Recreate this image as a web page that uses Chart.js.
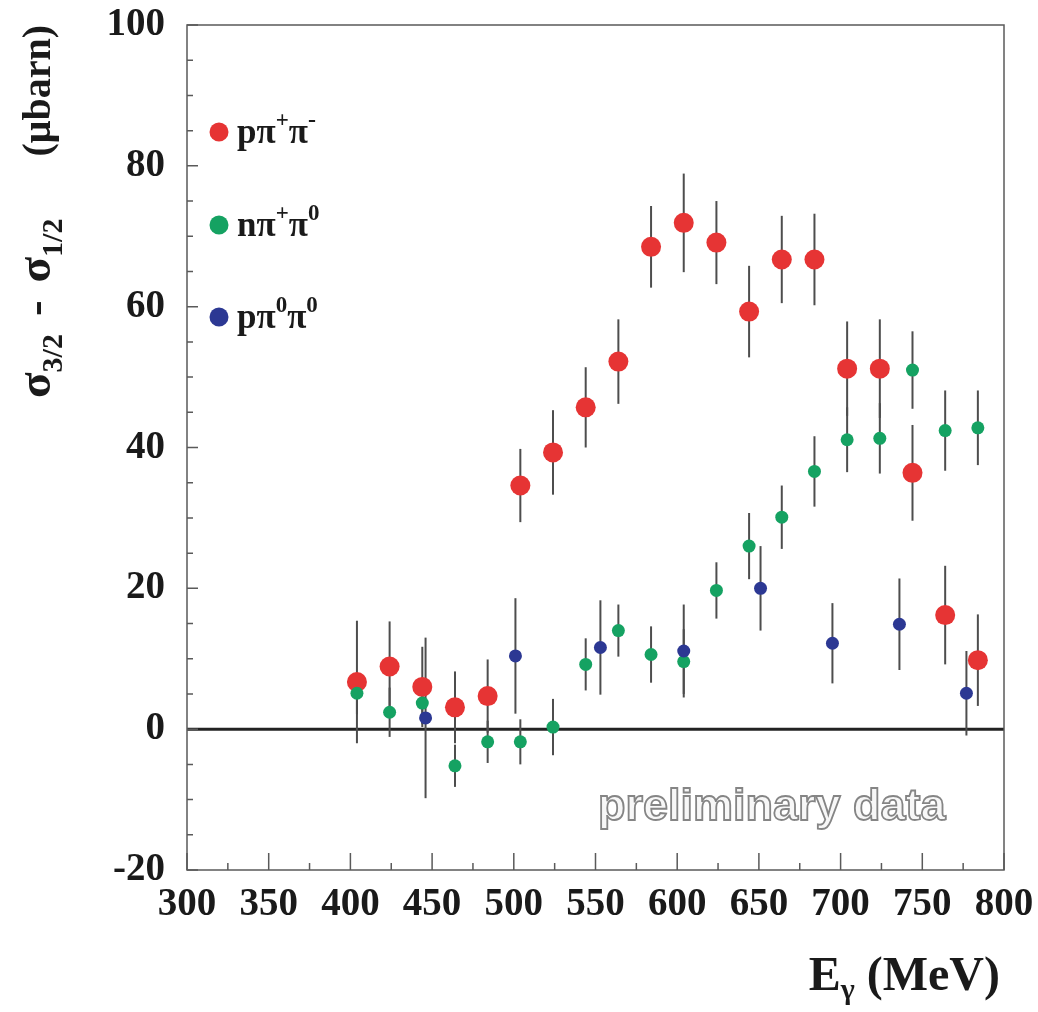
<!DOCTYPE html>
<html>
<head>
<meta charset="utf-8">
<script src="https://cdn.jsdelivr.net/npm/chart.js@4"></script>
<style>
  body { margin: 0; background: #fff; }
</style>
</head>
<body>
<canvas id="chart" width="1038" height="1012"></canvas>
<script>
// photon energies (MeV) and asymmetries (microbarn)
const chargedEnergy = [404, 424, 444, 464, 484, 504, 524, 544, 564, 584, 604, 624, 644, 664, 684, 704, 724, 744, 764, 784];
const ppipiValues = [6.7, 8.9, 6.0, 3.1, 4.7, 34.6, 39.3, 45.7, 52.2, 68.5, 71.9, 69.1, 59.3, 66.7, 66.7, 51.2, 51.2, 36.4, 16.2, 9.8];
const ppipiErrors = [8.7, 6.4, 5.7, 5.1, 5.2, 5.2, 6.0, 5.7, 6.0, 5.8, 7.0, 5.9, 6.5, 6.2, 6.5, 6.7, 7.0, 6.8, 7.0, 6.5];

const npipi0Values = [5.1, 2.4, 3.7, -5.2, -1.8, -1.8, 0.3, 9.2, 14.0, 10.6, 9.6, 19.7, 26.0, 30.1, 36.6, 41.1, 41.3, 51.0, 42.4, 42.8];
const npipi0Errors = [3.0, 3.5, 3.0, 3.0, 3.0, 3.2, 4.0, 3.7, 3.7, 4.0, 4.6, 4.0, 4.7, 4.5, 5.0, 4.6, 5.0, 5.5, 5.7, 5.3];

const neutralEnergy = [446, 501, 553, 604, 651, 695, 736, 777];
const p2pi0Values = [1.6, 10.4, 11.6, 11.1, 20.0, 12.2, 14.9, 5.1];
const p2pi0Errors = [11.4, 8.2, 6.7, 6.6, 6.0, 5.7, 6.5, 6.0];

const xTicks = [300, 350, 400, 450, 500, 550, 600, 650, 700, 750, 800];
const yTicks = [-20, 0, 20, 40, 60, 80, 100];

const RED = "#e63434";
const GREEN = "#15a262";
const BLUE = "#2c3893";
const SERIF = "'Liberation Serif', 'DejaVu Serif', serif";

function toPoints(xs, ys) {
  return xs.map((x, i) => ({ x: x, y: ys[i] }));
}

// draws a run of text pieces, each with its own size, offset and extra gap
function drawPieces(ctx, x, y, pieces) {
  let cx = x;
  pieces.forEach((p) => {
    cx += p.gap || 0;
    ctx.font = "bold " + p.size + "px " + SERIF;
    ctx.fillText(p.t, cx, y + (p.dy || 0));
    cx += ctx.measureText(p.t).width;
  });
  return cx - x;
}

function piecesWidth(ctx, pieces) {
  let w = 0;
  pieces.forEach((p) => {
    ctx.font = "bold " + p.size + "px " + SERIF;
    w += ctx.measureText(p.t).width + (p.gap || 0);
  });
  return w;
}

const errorBars = {
  id: "errorBars",
  beforeDatasetsDraw(chart) {
    const { ctx, chartArea, scales: { x, y } } = chart;
    ctx.save();

    // zero line
    const y0 = y.getPixelForValue(0);
    ctx.strokeStyle = "#222";
    ctx.lineWidth = 3;
    ctx.beginPath();
    ctx.moveTo(chartArea.left, y0);
    ctx.lineTo(chartArea.right, y0);
    ctx.stroke();

    ctx.strokeStyle = "#4d4d4d";
    ctx.lineWidth = 2;
    chart.data.datasets.forEach((ds) => {
      ds.data.forEach((pt, i) => {
        const px = x.getPixelForValue(pt.x);
        ctx.beginPath();
        ctx.moveTo(px, y.getPixelForValue(pt.y - ds.errors[i]));
        ctx.lineTo(px, y.getPixelForValue(pt.y + ds.errors[i]));
        ctx.stroke();
      });
    });
    ctx.restore();
  },
};

const frame = {
  id: "frame",
  beforeDatasetsDraw(chart) {
    const { ctx, chartArea: a, scales: { x, y } } = chart;
    ctx.save();
    ctx.strokeStyle = "#5a5a5a";
    ctx.lineWidth = 1.5;
    ctx.strokeRect(a.left, a.top, a.right - a.left, a.bottom - a.top);

    // inward tick marks
    ctx.beginPath();
    for (let v = 300; v <= 800; v += 25) {
      const px = x.getPixelForValue(v);
      const len = v % 50 === 0 ? 17 : 7;
      ctx.moveTo(px, a.bottom);
      ctx.lineTo(px, a.bottom - len);
    }
    for (let v = -20; v <= 100; v += 5) {
      const py = y.getPixelForValue(v);
      const len = v % 20 === 0 ? 11 : 6;
      ctx.moveTo(a.left, py);
      ctx.lineTo(a.left + len, py);
    }
    ctx.stroke();

    // watermark
    ctx.font = "bold 45px 'Liberation Sans', Arial, sans-serif";
    ctx.textBaseline = "alphabetic";
    ctx.fillStyle = "#f7f7f7";
    ctx.strokeStyle = "#858585";
    ctx.lineWidth = 1.8;
    ctx.fillText("preliminary data", a.left + 411, a.bottom - 50);
    ctx.strokeText("preliminary data", a.left + 411, a.bottom - 50);
    ctx.restore();
  },
  afterDraw(chart) {
    const { ctx, chartArea: a } = chart;
    ctx.save();
    ctx.fillStyle = "#1a1a1a";
    ctx.textBaseline = "alphabetic";

    // legend
    const entries = [
      { color: RED, dy: 107, text: [{ t: "p\u03c0", size: 35 }, { t: "+", size: 23, dy: -16 }, { t: "\u03c0", size: 35 }, { t: "-", size: 24, dy: -16 }] },
      { color: GREEN, dy: 200, text: [{ t: "n\u03c0", size: 35 }, { t: "+", size: 23, dy: -16 }, { t: "\u03c0", size: 35 }, { t: "0", size: 23, dy: -16 }] },
      { color: BLUE, dy: 292, text: [{ t: "p\u03c0", size: 35 }, { t: "0", size: 23, dy: -16 }, { t: "\u03c0", size: 35 }, { t: "0", size: 23, dy: -16 }] },
    ];
    entries.forEach((e) => {
      ctx.fillStyle = e.color;
      ctx.beginPath();
      ctx.arc(a.left + 32, a.top + e.dy, 9.5, 0, Math.PI * 2);
      ctx.fill();
      ctx.fillStyle = "#1a1a1a";
      drawPieces(ctx, a.left + 50, a.top + e.dy + 11, e.text);
    });

    // x axis title
    const xTitle = [{ t: "E", size: 48 }, { t: "\u03b3", size: 30, dy: 9 }, { t: " (MeV)", size: 48 }];
    const xw = piecesWidth(ctx, xTitle);
    drawPieces(ctx, a.right - 4 - xw, 990, xTitle);

    // y axis title, rotated, read from bottom (y=398) upwards
    const yTitle = [
      { t: "\u03c3", size: 47 }, { t: "3/2", size: 30, dy: 12 },
      { t: "-", size: 47, gap: 18 },
      { t: "\u03c3", size: 47, gap: 18 }, { t: "1/2", size: 30, dy: 12 },
    ];
    ctx.translate(50, 398);
    ctx.rotate(-Math.PI / 2);
    drawPieces(ctx, 0, 0, yTitle);
    ctx.font = "bold 40px " + SERIF;
    ctx.textAlign = "right";
    ctx.fillText("(\u03bcbarn)", 398 - 25, 0);
    ctx.restore();
  },
};

const tickFont = { family: SERIF, weight: "bold", size: 39 };

new Chart(document.getElementById("chart"), {
  type: "scatter",
  data: {
    datasets: [
      {
        label: "p\u03c0\u2070\u03c0\u2070",
        data: toPoints(neutralEnergy, p2pi0Values),
        errors: p2pi0Errors,
        backgroundColor: BLUE,
        pointRadius: 6.5,
        pointBorderWidth: 0,
        order: 1,
      },
      {
        label: "n\u03c0\u207a\u03c0\u2070",
        data: toPoints(chargedEnergy, npipi0Values),
        errors: npipi0Errors,
        backgroundColor: GREEN,
        pointRadius: 6.5,
        pointBorderWidth: 0,
        order: 2,
      },
      {
        label: "p\u03c0\u207a\u03c0\u207b",
        data: toPoints(chargedEnergy, ppipiValues),
        errors: ppipiErrors,
        backgroundColor: RED,
        pointRadius: 10,
        pointBorderWidth: 0,
        order: 3,
      },
    ],
  },
  options: {
    responsive: false,
    animation: false,
    layout: { padding: { top: 25, right: 34, left: 0, bottom: 0 } },
    plugins: {
      legend: { display: false },
      tooltip: { enabled: false },
    },
    scales: {
      x: {
        type: "linear",
        min: 300,
        max: 800,
        grid: { display: false, drawTicks: false },
        border: { display: false },
        afterBuildTicks: (scale) => {
          scale.ticks = xTicks.map((v) => ({ value: v }));
        },
        afterFit: (scale) => {
          scale.height = 142;
          scale.paddingLeft = 0;
          scale.paddingRight = 0;
        },
        ticks: {
          padding: 12,
          color: "#1a1a1a",
          font: tickFont,
          maxRotation: 0,
          autoSkip: false,
        },
      },
      y: {
        min: -20,
        max: 100,
        grid: { display: false, drawTicks: false },
        border: { display: false },
        afterBuildTicks: (scale) => {
          scale.ticks = yTicks.map((v) => ({ value: v }));
        },
        afterFit: (scale) => {
          scale.width = 187;
          scale.paddingTop = 0;
          scale.paddingBottom = 0;
        },
        ticks: {
          padding: 22,
          color: "#1a1a1a",
          font: tickFont,
        },
      },
    },
  },
  plugins: [errorBars, frame],
});
</script>
</body>
</html>
